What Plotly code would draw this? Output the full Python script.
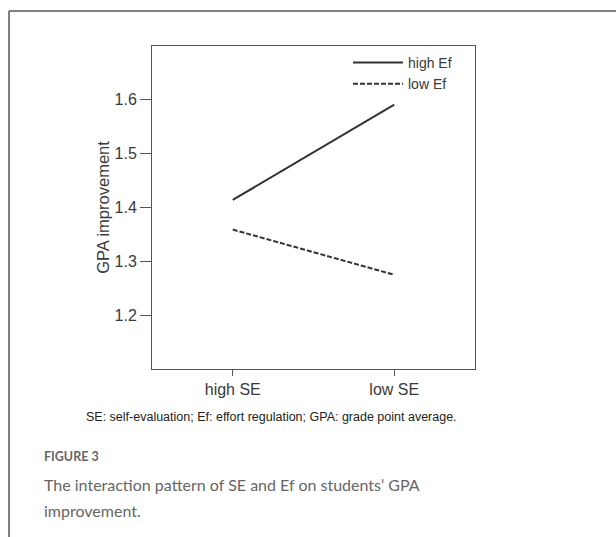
import plotly.graph_objects as go

# Simple-slopes data: GPA improvement by self-evaluation level, split by effort regulation
se_levels = ["high SE", "low SE"]
high_ef = [1.414, 1.591]
low_ef = [1.359, 1.275]
y_ticks = [1.2, 1.3, 1.4, 1.5, 1.6]

W, H = 616, 537
PL, PR, PT, PB = 152, 475, 46, 369  # plot-area box in pixels


def px(x):
    return (x - PL) / (PR - PL)


def py(y):
    return (PB - y) / (PB - PT)


AX_FONT = dict(family="Liberation Sans, Arial, sans-serif", size=16, color="#3a3a3a")

fig = go.Figure()
fig.add_trace(go.Scatter(x=se_levels, y=high_ef, mode="lines", name="high Ef",
                         line=dict(color="#333333", width=2)))
fig.add_trace(go.Scatter(x=se_levels, y=low_ef, mode="lines", name="low Ef",
                         line=dict(color="#333333", width=2, dash="5px,2px")))

fig.update_layout(
    width=W, height=H,
    margin=dict(l=PL, r=W - PR, t=PT, b=H - PB, pad=0),
    paper_bgcolor="white", plot_bgcolor="white",
    font=AX_FONT,
    showlegend=True,
    legend=dict(x=px(348), y=py(47), xanchor="left", yanchor="top",
                bgcolor="rgba(0,0,0,0)", borderwidth=0, itemwidth=50,
                tracegroupgap=0, font=dict(AX_FONT, size=14)),
    xaxis=dict(range=[-0.5, 1.5], showgrid=False, zeroline=False,
               showline=True, linecolor="#555555", linewidth=1, mirror=True,
               ticks="outside", ticklen=6, tickcolor="#555555",
               tickfont=AX_FONT, fixedrange=True),
    yaxis=dict(range=[1.1, 1.7], tickvals=y_ticks, ticktext=[f"{v:.1f}" for v in y_ticks],
               showgrid=False, zeroline=False,
               showline=True, linecolor="#555555", linewidth=1, mirror=True,
               ticks="outside", ticklen=11, tickcolor="#555555",
               tickfont=AX_FONT, fixedrange=True,
               title=dict(text="GPA improvement", font=dict(AX_FONT, size=16.5), standoff=0)),
)

# Figure frame (top and left edges of the surrounding panel)
frame = dict(color="#555555", width=1.5)
fig.add_shape(type="line", xref="paper", yref="paper",
              x0=px(9), x1=px(W + 10), y0=py(11), y1=py(11), line=frame)
fig.add_shape(type="line", xref="paper", yref="paper",
              x0=px(9), x1=px(9), y0=py(11), y1=py(H + 10), line=frame)

# Abbreviation note under the chart
fig.add_annotation(text="SE: self-evaluation; Ef: effort regulation; GPA: grade point average.",
                   xref="paper", yref="paper", x=px(271), y=py(417),
                   xanchor="center", yanchor="middle", showarrow=False,
                   font=dict(family="Liberation Sans, Arial, sans-serif", size=12.5, color="#222222"))

# Figure caption
CAP = "Lato, Open Sans, sans-serif"
fig.add_annotation(text="<b>FIGURE 3</b>", xref="paper", yref="paper",
                   x=px(42), y=py(456), xanchor="left", yanchor="middle", showarrow=False,
                   font=dict(family=CAP, size=12.5, color="#666666"))
fig.add_annotation(text="The interaction pattern of SE and Ef on students\u2019 GPA",
                   xref="paper", yref="paper", x=px(42), y=py(484),
                   xanchor="left", yanchor="middle", showarrow=False,
                   font=dict(family=CAP, size=16, color="#666666"))
fig.add_annotation(text="improvement.", xref="paper", yref="paper",
                   x=px(42), y=py(510), xanchor="left", yanchor="middle", showarrow=False,
                   font=dict(family=CAP, size=16, color="#666666"))

fig.write_html("out.html")
